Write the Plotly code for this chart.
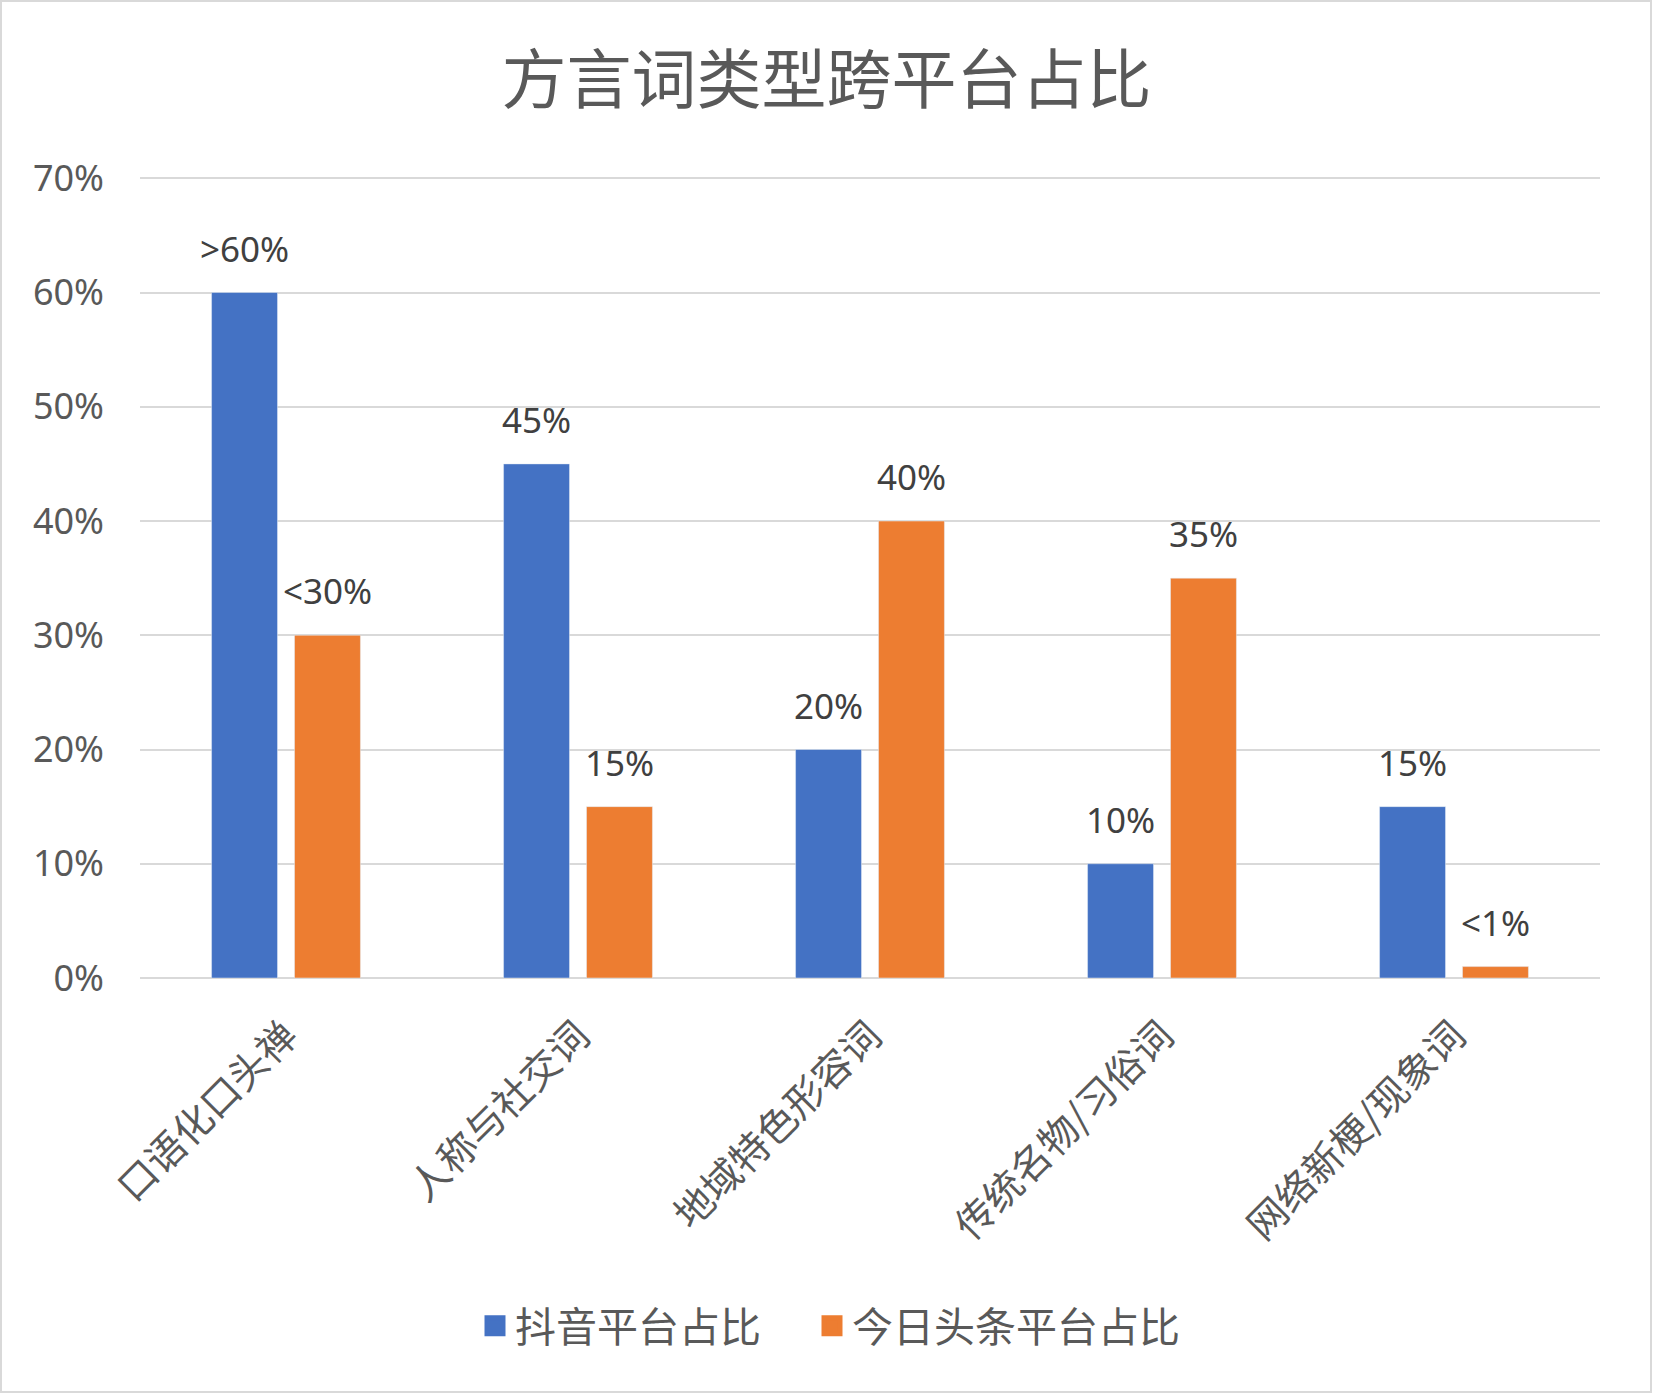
import plotly.graph_objects as go

categories = ["口语化口头禅", "人称与社交词", "地域特色形容词", "传统名物/习俗词", "网络新梗/现象词"]
douyin_values = [60, 45, 20, 10, 15]
toutiao_values = [30, 15, 40, 35, 1]
douyin_labels = [">60%", "45%", "20%", "10%", "15%"]
toutiao_labels = ["<30%", "15%", "40%", "35%", "<1%"]
series_names = ["抖音平台占比", "今日头条平台占比"]
y_ticks = [0, 10, 20, 30, 40, 50, 60, 70]
y_tick_labels = ["0%", "10%", "20%", "30%", "40%", "50%", "60%", "70%"]

W, H = 1653, 1394
ML, MR, MT, MB = 140, 53, 176, 416
PW, PH = W - ML - MR, H - MT - MB

BLUE = "#4472C4"
ORANGE = "#ED7D31"
CJK = "Noto Sans CJK SC"
LAT = "Noto Sans, Noto Sans CJK SC"

fig = go.Figure()
fig.add_trace(go.Bar(x=categories, y=douyin_values, name=series_names[0],
                     marker_color=BLUE, showlegend=False))
fig.add_trace(go.Bar(x=categories, y=toutiao_values, name=series_names[1],
                     marker_color=ORANGE, showlegend=False))
# legend entries (one legend box per series, to reproduce spacing)
for i, (nm, col) in enumerate(zip(series_names, [BLUE, ORANGE])):
    fig.add_trace(go.Scatter(x=[None], y=[None], mode="markers", name=nm,
                             legend="legend" if i == 0 else "legend2",
                             marker=dict(symbol="square", size=16, color=col,
                                         line=dict(color=col, width=5))))

annotations = []
for cat, v, t in zip(categories, douyin_values, douyin_labels):
    annotations.append(dict(x=cat, y=v, text=t, xref="x", yref="y", showarrow=False,
                            xshift=-41.5, yshift=19, yanchor="bottom",
                            font=dict(family=LAT, size=35, color="#404040")))
for cat, v, t in zip(categories, toutiao_values, toutiao_labels):
    annotations.append(dict(x=cat, y=v, text=t, xref="x", yref="y", showarrow=False,
                            xshift=41.5, yshift=19, yanchor="bottom",
                            font=dict(family=LAT, size=35, color="#404040")))

legend_style = dict(orientation="h", xanchor="left",
                    y=(H - MB - 1326) / PH, yanchor="middle",
                    font=dict(family=CJK, size=41, color="#595959"),
                    itemsizing="trace", bgcolor="rgba(0,0,0,0)")

fig.update_layout(
    width=W, height=H,
    margin=dict(l=ML, r=MR, t=MT, b=MB, autoexpand=False),
    paper_bgcolor="white", plot_bgcolor="white",
    barmode="group", bargap=0.432, bargroupgap=0.205,
    title=dict(text="方言词类型跨平台占比", x=0.5, xanchor="center",
               y=1 - 80 / H, yanchor="middle",
               font=dict(family=CJK, size=65, color="#595959")),
    legend=dict(x=(475 - ML) / PW, **legend_style),
    legend2=dict(x=(812 - ML) / PW, **legend_style),
    annotations=annotations,
    shapes=[dict(type="rect", xref="paper", yref="paper",
                 x0=(1 - ML) / PW, x1=(W - 2 - ML) / PW,
                 y0=(H - MB - (H - 2)) / PH, y1=(H - MB - 1) / PH,
                 line=dict(color="#D9D9D9", width=2), layer="below")],
)
fig.update_xaxes(type="category", tickangle=-45, showgrid=False,
                 showline=False, ticks="", ticklabelstandoff=26,
                 tickfont=dict(family=CJK, size=39, color="#595959"))
fig.update_yaxes(range=[0, 70.2], tickvals=y_ticks, ticktext=y_tick_labels,
                 showgrid=True, gridcolor="#D9D9D9", gridwidth=2,
                 zeroline=True, zerolinecolor="#D9D9D9", zerolinewidth=2,
                 showline=False, ticks="", ticklabelstandoff=35,
                 tickfont=dict(family=LAT, size=36, color="#595959"))

fig.write_html("out.html", config={"displayModeBar": False},
               post_script="document.body.style.margin='0';")
